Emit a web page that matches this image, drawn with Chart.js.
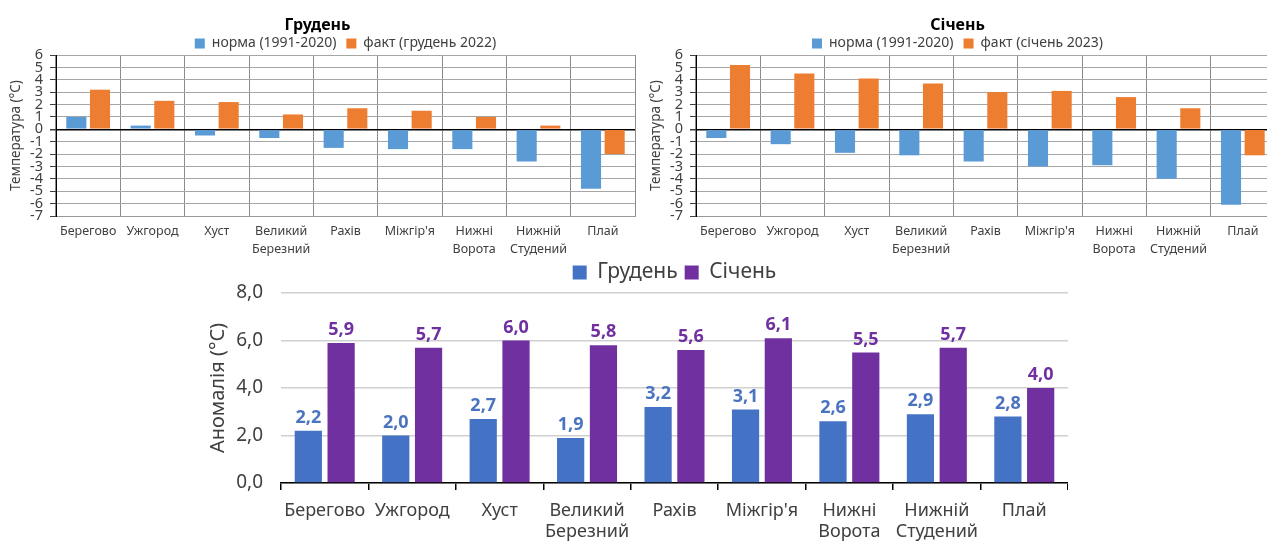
<!DOCTYPE html>
<html>
<head>
<meta charset="utf-8">
<script src="https://cdn.jsdelivr.net/npm/chart.js@4.4.1/dist/chart.umd.min.js"></script>
<style>
  html, body { margin: 0; padding: 0; background: #fff; overflow: hidden; width: 1267px; height: 545px; }
  canvas { position: absolute; }
  #dec { left: 0; top: 0; }
  #jan { left: 640px; top: 0; }
  #anom { left: 190px; top: 255px; }
</style>
</head>
<body>
<canvas id="dec" width="636" height="262"></canvas>
<canvas id="jan" width="636" height="262"></canvas>
<canvas id="anom" width="878" height="290"></canvas>
<script>
// stations (multi-line labels as arrays)
const stations = [['Берегово'], ['Ужгород'], ['Хуст'], ['Великий', 'Березний'], ['Рахів'],
  ["Міжгір'я"], ['Нижні', 'Ворота'], ['Нижній', 'Студений'], ['Плай']];

// грудень: норма 1991-2020 і факт 2022
const decNorm = [1.0, 0.3, -0.5, -0.7, -1.5, -1.6, -1.6, -2.6, -4.8];
const decFact = [3.2, 2.3, 2.2, 1.2, 1.7, 1.5, 1.0, 0.3, -2.0];

// січень: норма 1991-2020 і факт 2023
const janNorm = [-0.7, -1.2, -1.9, -2.1, -2.6, -3.0, -2.9, -4.0, -6.1];
const janFact = [5.2, 4.5, 4.1, 3.7, 3.0, 3.1, 2.6, 1.7, -2.1];

// аномалії
const decAnomaly = [2.2, 2.0, 2.7, 1.9, 3.2, 3.1, 2.6, 2.9, 2.8];
const janAnomaly = [5.9, 5.7, 6.0, 5.8, 5.6, 6.1, 5.5, 5.7, 4.0];

Chart.defaults.font.family = '"Noto Sans", sans-serif';

function fmt(v) {
  return v.toFixed(1).replace('.', ',');
}

// value labels above the bars of the anomaly chart
const valueLabels = {
  id: 'valueLabels',
  afterDatasetsDraw(chart) {
    const ctx = chart.ctx;
    ctx.save();
    ctx.font = 'bold 18px "Noto Sans", sans-serif';
    ctx.textAlign = 'center';
    ctx.textBaseline = 'bottom';
    chart.data.datasets.forEach((ds, i) => {
      ctx.fillStyle = ds.labelColor;
      chart.getDatasetMeta(i).data.forEach((bar, j) => {
        ctx.fillText(fmt(ds.data[j]), bar.x, bar.y - 4);
      });
    });
    ctx.restore();
  }
};

function tempChart(id, title, normLabel, factLabel, norm, fact, legendFull) {
  return new Chart(document.getElementById(id), {
    type: 'bar',
    data: {
      labels: stations,
      datasets: [
        { label: normLabel, data: norm, backgroundColor: '#5B9BD5' },
        { label: factLabel, data: fact, backgroundColor: '#ED7D31' }
      ]
    },
    options: {
      responsive: false,
      animation: false,
      categoryPercentage: 0.735,
      barPercentage: 0.85,
      layout: { padding: { left: 0, right: 1, top: 0, bottom: 0 } },
      plugins: {
        title: {
          display: true, text: title, color: '#000',
          font: { size: 16, weight: 'bold' },
          padding: { top: 16, bottom: -8.7 }
        },
        legend: {
          fullSize: legendFull,
          maxHeight: 28.5,
          labels: { boxWidth: 10, boxHeight: 10, padding: 10, color: '#404040', font: { size: 14 } }
        },
        tooltip: { enabled: false }
      },
      scales: {
        x: {
          grid: { offset: true, color: '#8c8c8c', drawTicks: false },
          border: { color: '#9a9a9a' },
          ticks: { color: '#404040', font: { size: 12.5, lineHeight: 1.45 }, padding: 6, maxRotation: 0, autoSkip: false },
          afterFit: s => { s.height = 46; }
        },
        y: {
          min: -7,
          max: 6,
          ticks: { stepSize: 1, autoSkip: false, color: '#404040', font: { size: 14.5 }, padding: 7 },
          grid: {
            color: c => c.tick.value === 0 ? '#000' : '#a6a6a6',
            lineWidth: c => c.tick.value === 0 ? 1.5 : 1,
            tickLength: 6,
            tickColor: '#404040'
          },
          border: { color: '#000' },
          title: {
            display: true, text: 'Температура (°C)', color: '#404040',
            font: { size: 13.5 }, padding: { top: 8.5, bottom: 0 }
          },
          afterFit: s => { s.width = 56; }
        }
      }
    }
  });
}

tempChart('dec', 'Грудень', 'норма (1991-2020)', 'факт (грудень 2022)', decNorm, decFact, false);
tempChart('jan', 'Січень', 'норма (1991-2020)', 'факт (січень 2023)', janNorm, janFact, true);

new Chart(document.getElementById('anom'), {
  type: 'bar',
  data: {
    labels: stations,
    datasets: [
      { label: 'Грудень', data: decAnomaly, backgroundColor: '#4472C4', labelColor: '#4a74c0' },
      { label: 'Січень', data: janAnomaly, backgroundColor: '#7030A0', labelColor: '#7030A0' }
    ]
  },
  options: {
    responsive: false,
    animation: false,
    categoryPercentage: 0.75,
    barPercentage: 0.83,
    plugins: {
      legend: {
        fullSize: false,
        labels: { boxWidth: 14, boxHeight: 14, padding: 7, color: '#404040', font: { size: 21 } }
      },
      tooltip: { enabled: false }
    },
    scales: {
      x: {
        grid: { offset: true, drawOnChartArea: false, tickLength: 7, tickColor: '#000', lineWidth: 1.5 },
        border: { color: '#000', width: 1.5 },
        ticks: { color: '#404040', font: { size: 18, lineHeight: 1.15 }, padding: 11, maxRotation: 0, autoSkip: false },
        afterFit: s => { s.height = 62; }
      },
      y: {
        min: 0,
        max: 8,
        ticks: { stepSize: 2, color: '#404040', font: { size: 19 }, padding: 18, callback: v => fmt(v) },
        grid: { color: '#d0d0d0', lineWidth: 1.5, drawTicks: false },
        border: { display: false },
        title: {
          display: true, text: 'Аномалія (°C)', color: '#404040',
          font: { size: 20 }, padding: { top: 16, bottom: 0 }
        },
        afterFit: s => { s.width = 91; }
      }
    }
  },
  plugins: [valueLabels]
});
</script>
</body>
</html>
